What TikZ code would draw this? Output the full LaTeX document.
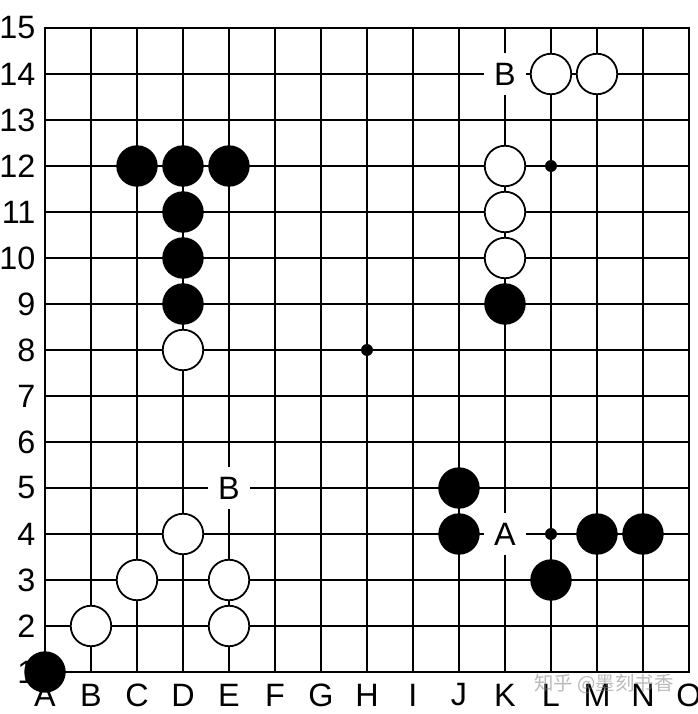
\documentclass[tikz,border=0pt]{standalone}
\usepackage{fontspec}
\setmainfont{Liberation Sans}
\newfontfamily\cjkfont{Noto Sans CJK SC}
\usetikzlibrary{positioning}

\begin{document}
\begin{tikzpicture}[inner sep=0pt,
    gridline/.style={line width=1.1pt},
    bstone/.style={fill=black,circle,minimum size=0.9cm},
    wstone/.style={draw=black,fill=white,circle,line width=1.1pt,minimum size=0.88cm},
    hoshi/.style={fill=black,circle,minimum size=0.26cm},
    ptlabel/.style={fill=white,minimum size=0.9cm,font=\fontsize{20}{24}\selectfont},
    coordlabel/.style={font=\fontsize{20}{24}\selectfont}]
    \useasboundingbox (-0.978,-0.913) rectangle (14.196,14.609);
    % board
    \draw[gridline] (0,0) grid (14,14);
    \draw[line width=1.8pt] (0,0) rectangle (14,14);
    % coordinates
    \foreach \n in {1,...,15}
        \node[coordlabel,anchor=east] (row-\n) at (-0.2,\n-1) {\n};
    \foreach \lab [count=\i from 0] in {A,B,C,D,E,F,G,H,I,J,K,L,M,N,O}
        \node[coordlabel] (col-\lab) at (\i,-0.5) {\lab};
    % star points
    \foreach \x/\y in {11/11, 7/7, 11/3}
        \node[hoshi] (h-\x-\y) at (\x,\y) {};
    % stones
    \foreach \x/\y in {0/0, 2/11, 3/11, 4/11, 3/10, 3/9, 3/8, 10/8, 9/4, 9/3, 11/2, 12/3, 13/3}
        \node[bstone] (b-\x-\y) at (\x,\y) {};
    \foreach \x/\y in {11/13, 12/13, 10/11, 10/10, 10/9, 3/7, 3/3, 2/2, 4/2, 1/1, 4/1}
        \node[wstone] (w-\x-\y) at (\x,\y) {};
    % marked points
    \node[ptlabel] (B1) at (10,13) {B};
    \node[ptlabel] (B2) at (4,4) {B};
    \node[ptlabel] (A1) at (10,3) {A};
    % watermark
    \node[font=\cjkfont\fontsize{12}{14}\selectfont,text=gray,opacity=0.55] (wm) at (12.15,-0.26) {知乎 @墨刻书香};
\end{tikzpicture}
\end{document}
